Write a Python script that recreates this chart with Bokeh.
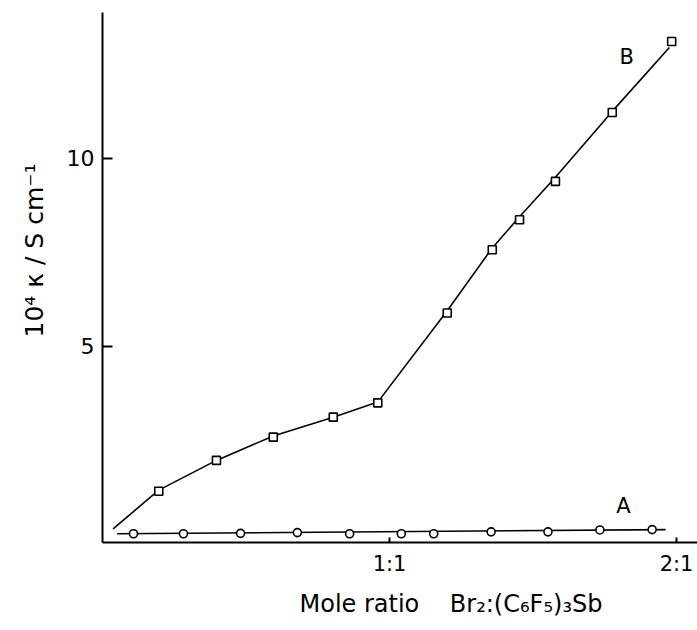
from bokeh.plotting import figure
from bokeh.models import Range1d, FixedTicker, Label, Title
from bokeh.embed import file_html
from bokeh.resources import INLINE

# Data
# Series B (squares)
b_x = [0.196, 0.397, 0.595, 0.804, 0.959, 1.201, 1.358, 1.453, 1.578, 1.776, 1.983]
b_y = [1.15, 1.97, 2.59, 3.12, 3.50, 5.89, 7.57, 8.37, 9.39, 11.22, 13.11]
# Fitted curve B (drawn line)
b_line_x = [0.037, 0.196, 0.397, 0.595, 0.804, 0.959, 1.201, 1.358, 1.453, 1.578, 1.776, 1.975]
b_line_y = [0.15, 1.18, 1.97, 2.62, 3.12, 3.52, 5.95, 7.62, 8.45, 9.50, 11.25, 12.95]
# Series A (circles)
a_x = [0.108, 0.282, 0.481, 0.679, 0.861, 1.041, 1.154, 1.354, 1.552, 1.733, 1.915]
a_y = [0.02, 0.02, 0.03, 0.05, 0.02, 0.02, 0.02, 0.07, 0.07, 0.12, 0.13]
a_line_x = [0.051, 1.962]
a_line_y = [0.02, 0.13]

x_ticks = [1, 2]
x_tick_labels = {1: "1:1", 2: "2:1"}
y_ticks = [5, 10]
x_title = "Mole ratio\u00a0\u00a0\u00a0 Br\u2082:(C\u2086F\u2085)\u2083Sb"
y_title = "10\u2074 \u03ba / S cm\u207b\u00b9"

FONT = "DejaVu Sans"

p = figure(width=697, height=630, output_backend="svg", toolbar_location=None,
           x_range=Range1d(0, 2.073), y_range=Range1d(-0.213, 13.88),
           min_border_left=102, min_border_right=0, min_border_top=12, min_border_bottom=88)
p.outline_line_color = None
p.grid.visible = False
p.background_fill_color = "white"
p.border_fill_color = "white"

for ax in (p.xaxis[0], p.yaxis[0]):
    ax.axis_line_width = 2
    ax.axis_line_color = "black"
    ax.major_tick_line_color = "black"
    ax.major_tick_line_width = 2
    ax.minor_tick_line_color = None
    ax.major_tick_out = 0
    ax.major_label_text_font = FONT
    ax.major_label_text_color = "black"

p.xaxis.ticker = FixedTicker(ticks=x_ticks)
p.xaxis.major_label_overrides = x_tick_labels
p.xaxis.major_tick_in = 5
p.xaxis.major_label_text_font_size = "21px"
p.xaxis.major_label_standoff = 9

p.yaxis.ticker = FixedTicker(ticks=y_ticks)
p.yaxis.major_tick_in = 10
p.yaxis.major_label_text_font_size = "22px"
p.yaxis.major_label_standoff = 8

p.line(b_line_x, b_line_y, line_color="black", line_width=1.6)
p.line(a_line_x, a_line_y, line_color="black", line_width=1.6)
p.scatter(b_x, b_y, marker="square", size=8, fill_color="white",
          line_color="black", line_width=1.6)
p.scatter(a_x, a_y, marker="circle", size=8, fill_color="white",
          line_color="black", line_width=1.6)

p.add_layout(Label(x=1.815, y=0.77, text="A", text_font=FONT, text_font_size="21px",
                   text_align="center", text_baseline="middle", text_color="black"))
p.add_layout(Label(x=1.826, y=12.69, text="B", text_font=FONT, text_font_size="21px",
                   text_align="center", text_baseline="middle", text_color="black"))

# Axis titles (placed off-centre as in the original)
p.add_layout(Title(text=x_title, text_font=FONT, text_font_size="24px",
                   text_font_style="normal", text_color="black",
                   align="left", offset=197, vertical_align="top", standoff=22), "below")
p.add_layout(Title(text=y_title, text_font=FONT, text_font_size="25px",
                   text_font_style="normal", text_color="black",
                   align="left", offset=205, vertical_align="bottom", standoff=30), "left")

open("out.html", "w").write(file_html(p, INLINE))
